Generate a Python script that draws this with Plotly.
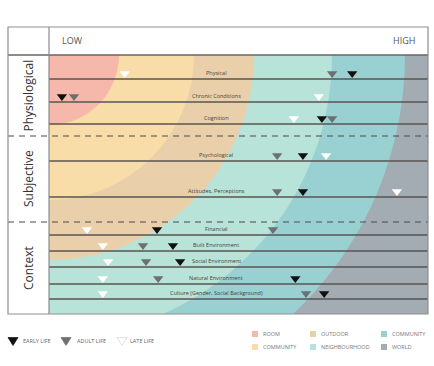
import plotly.graph_objects as go

# ---------------- data ----------------
rows = ["Physical", "Chronic Conditions", "Cognition",
        "Psychological", "Attitudes, Perceptions",
        "Financial", "Built Environment", "Social Environment",
        "Natural Environment", "Culture (Gender, Social Background)"]
groups = ["Physiological", "Subjective", "Context"]
group_sizes = [3, 2, 5]

# position on LOW (0) .. HIGH (100) scale
early_life = [80, 3.4, 72, 67, 67, 28.5, 32.7, 34.6, 65, 72.6]
adult_life = [74.7, 6.6, 74.7, 60.2, 60.2, 59.1, 24.8, 25.6, 28.8, 67.8]
late_life = [20, 71.2, 64.6, 73.1, 91.8, 10, 14.2, 15.6, 14.2, 14.2]

scale_labels = ["LOW", "HIGH"]
zone_names = ["ROOM", "OUTDOOR", "COMMUNITY", "COMMUNITY", "NEIGHBOURHOOD", "WORLD"]
life_names = ["EARLY LIFE", "ADULT LIFE", "LATE LIFE"]

# ---------------- layout constants (pixels) ----------------
W, H = 434, 366
L, R, T0, T, B = 8, 428, 27, 55, 314
DIV = 49
row_lines = [79, 102, 124, 161, 197, 235, 251, 267, 284, 299]
group_dividers = [136, 222]
group_bounds = [T] + group_dividers + [B]
KX = (R - DIV) / 100.0

def px(p):
    return p / W

def py(p):
    return 1 - p / H

zone_col = {"pink": "#F7B8AC", "peach": "#F9DDA9", "tan": "#E9D0AB",
            "mint": "#B8E3D8", "teal": "#99D0D1", "gray": "#A3ABB3"}
arcs = [(356, zone_col["teal"]), (283, zone_col["mint"]), (205, zone_col["tan"]),
        (145, zone_col["peach"]), (70, zone_col["pink"])]

fig = go.Figure()
shapes = []
# world background
shapes.append(dict(type="rect", xref="paper", yref="paper", x0=px(DIV), x1=px(R),
                   y0=py(B), y1=py(T), fillcolor=zone_col["gray"], line=dict(width=0),
                   layer="below"))
for r, c in arcs:
    shapes.append(dict(type="circle", xref="x", yref="y", x0=-r / KX, x1=r / KX,
                       y0=T - r, y1=T + r, fillcolor=c, line=dict(width=0), layer="below"))
# row lines
for yl in row_lines:
    shapes.append(dict(type="line", xref="paper", yref="paper", x0=px(DIV), x1=px(R),
                       y0=py(yl), y1=py(yl), line=dict(color="#5a5550", width=1.3)))
# dashed group dividers
for yd in group_dividers:
    shapes.append(dict(type="line", xref="paper", yref="paper", x0=px(L), x1=px(R),
                       y0=py(yd), y1=py(yd), line=dict(color="#4a4a4a", width=1.2, dash="6px,5px")))
# header bottom line
shapes.append(dict(type="line", xref="paper", yref="paper", x0=px(L), x1=px(R),
                   y0=py(T), y1=py(T), line=dict(color="#6a6460", width=1.3)))
# vertical divider
shapes.append(dict(type="line", xref="paper", yref="paper", x0=px(DIV), x1=px(DIV),
                   y0=py(T0), y1=py(B), line=dict(color="#8a8a8a", width=1.2)))
# outer border
shapes.append(dict(type="rect", xref="paper", yref="paper", x0=px(L), x1=px(R),
                   y0=py(B), y1=py(T0), line=dict(color="#8f8f8f", width=1.2)))

# legend colour squares
sq = [(255, 334, zone_col["pink"]), (313, 334, zone_col["tan"]), (384, 334, zone_col["teal"]),
      (255, 347, zone_col["peach"]), (313, 347, zone_col["mint"]), (384, 347, zone_col["gray"])]
for x, y, c in sq:
    shapes.append(dict(type="rect", xref="paper", yref="paper", x0=px(x - 3), x1=px(x + 3),
                       y0=py(y + 3), y1=py(y - 3), fillcolor=c, line=dict(width=0)))

# legend triangles
leg_px = [13, 66, 122]
leg_fill = ["#111111", "#6e6f71", "#ffffff"]
leg_line = ["#111111", "#6e6f71", "#d6d6d6"]
LY = 341
for x, fc, lc in zip(leg_px, leg_fill, leg_line):
    path = "M {} {} L {} {} L {} {} Z".format(px(x - 5), py(LY - 3.5), px(x + 5), py(LY - 3.5),
                                              px(x), py(LY + 4.5))
    shapes.append(dict(type="path", xref="paper", yref="paper", path=path, fillcolor=fc,
                       line=dict(color=lc, width=0.7)))

# ---------------- markers ----------------
marker_y = [yl - 5.5 for yl in row_lines]
series = [(early_life, "#111111"), (adult_life, "#6e6f71"), (late_life, "#ffffff")]
for (vals, fc), name in zip(series, life_names):
    fig.add_trace(go.Scatter(x=vals, y=marker_y, mode="markers", name=name,
                             marker=dict(symbol="triangle-down", size=9, color=fc,
                                         line=dict(width=0)),
                             showlegend=False, hoverinfo="skip"))

# ---------------- annotations ----------------
ann = []
ann.append(dict(x=px(60), y=py(40), text=scale_labels[0], xanchor="left", yanchor="middle",
                font=dict(size=9, color="#555555")))
ann.append(dict(x=px(417), y=py(40), text=scale_labels[1], xanchor="right", yanchor="middle",
                font=dict(size=9, color="#555555")))
for i, g in enumerate(groups):
    yc = (group_bounds[i] + group_bounds[i + 1]) / 2
    ann.append(dict(x=px(28), y=py(yc), text=g, textangle=-90, xanchor="center",
                    yanchor="middle", font=dict(size=12, color="#333333")))
for name, yl in zip(rows, row_lines):
    ann.append(dict(x=px(216), y=py(yl - 6), text=name, xanchor="center", yanchor="middle",
                    font=dict(size=5.5, color="#4a3f36")))
for p, t in zip([21, 75, 128], life_names):
    ann.append(dict(x=px(p), y=py(341), text=t, xanchor="left", yanchor="middle",
                    font=dict(size=5.5, color="#666666")))
for (x, y, c), t in zip(sq, zone_names):
    ann.append(dict(x=px(x + 6), y=py(y), text=t, xanchor="left", yanchor="middle",
                    font=dict(size=5.5, color="#777777")))
for a in ann:
    a.update(xref="paper", yref="paper", showarrow=False)

fig.update_layout(
    width=W, height=H, margin=dict(l=0, r=0, t=0, b=0),
    paper_bgcolor="white", plot_bgcolor="rgba(0,0,0,0)",
    font=dict(family="Open Sans, Arial, sans-serif"),
    xaxis=dict(domain=[px(DIV), px(R)], range=[0, 100], visible=False, fixedrange=True),
    yaxis=dict(domain=[py(B), py(T)], range=[B, T], visible=False, fixedrange=True),
    shapes=shapes, annotations=ann,
)
fig.write_html("out.html", config={"displayModeBar": False},
               post_script="document.body.style.margin='0px';")
